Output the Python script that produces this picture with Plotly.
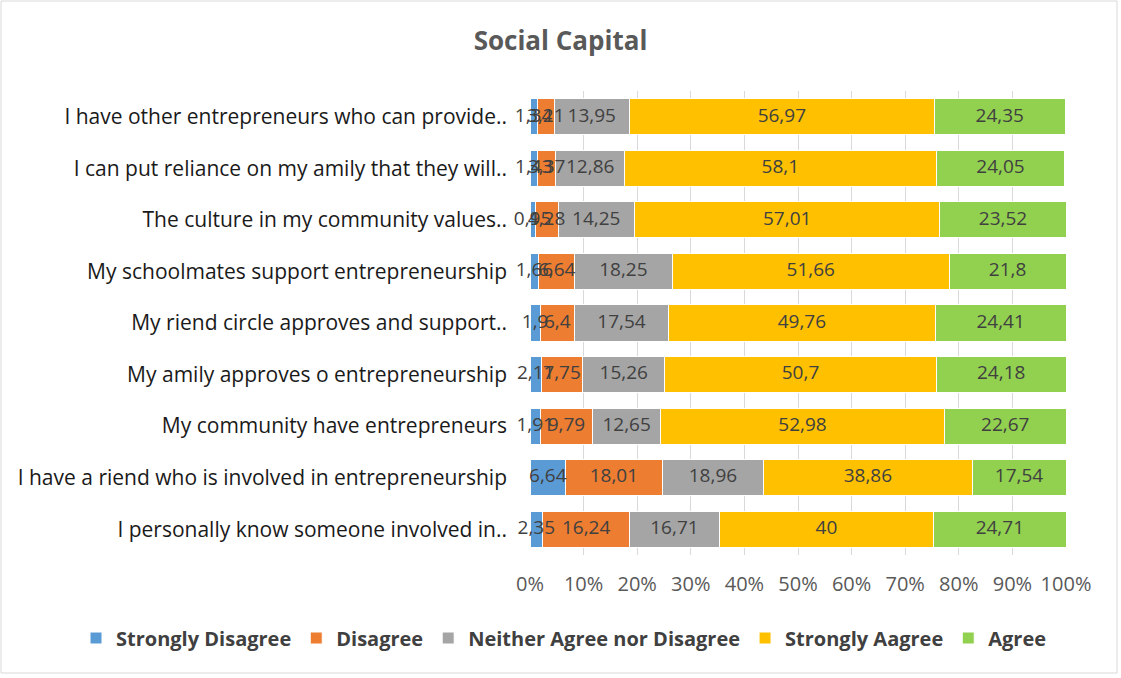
import plotly.graph_objects as go

# Survey statements (top to bottom) and response shares in percent
statements = [
    "I have other entrepreneurs who can provide..",
    "I can put reliance on my amily that they will..",
    "The culture in my community values..",
    "My schoolmates support entrepreneurship",
    "My riend circle approves and support..",
    "My amily approves o entrepreneurship",
    "My community have entrepreneurs",
    "I have a riend who is involved in entrepreneurship",
    "I personally know someone involved in..",
]

strongly_disagree = [1.34, 1.43, 0.95, 1.66, 1.9, 2.11, 1.91, 6.64, 2.35]
disagree = [3.21, 3.37, 4.28, 6.64, 6.4, 7.75, 9.79, 18.01, 16.24]
neither = [13.95, 12.86, 14.25, 18.25, 17.54, 15.26, 12.65, 18.96, 16.71]
strongly_agree = [56.97, 58.1, 57.01, 51.66, 49.76, 50.7, 52.98, 38.86, 40]
agree = [24.35, 24.05, 23.52, 21.8, 24.41, 24.18, 22.67, 17.54, 24.71]

x_ticks = [0, 10, 20, 30, 40, 50, 60, 70, 80, 90, 100]

series = [
    ("Strongly Disagree", strongly_disagree, "#5B9BD5"),
    ("Disagree", disagree, "#ED7D31"),
    ("Neither Agree nor Disagree", neither, "#A5A5A5"),
    ("Strongly Aagree", strongly_agree, "#FFC000"),
    ("Agree", agree, "#92D050"),
]

FONT = "Open Sans"
W, H = 1121, 678
ML, MR, MT, MB = 530, 55, 91, 123
PW, PH = W - ML - MR, H - MT - MB


def fmt(v):
    s = f"{v:.2f}".rstrip("0").rstrip(".")
    return s.replace(".", ",")


fig = go.Figure()
base = [0.0] * len(statements)
label_x, label_y, label_t = [], [], []
for name, vals, color in series:
    fig.add_trace(go.Bar(
        name=f"<b>{name}</b>",
        y=statements,
        x=vals,
        orientation="h",
        marker=dict(color=color, line=dict(color="white", width=1)),
        hoverinfo="x+name",
    ))
    for i, v in enumerate(vals):
        label_x.append(base[i] + v / 2)
        label_y.append(statements[i])
        label_t.append(fmt(v))
        base[i] += v

# value labels centred on each segment
fig.add_trace(go.Scatter(
    x=label_x, y=label_y, text=label_t, mode="text",
    textposition="middle center",
    textfont=dict(family=FONT, size=19, color="#404040"),
    cliponaxis=False,
    showlegend=False, hoverinfo="skip",
))

fig.update_layout(
    barmode="stack",
    bargap=0.3,
    width=W,
    height=H,
    margin=dict(l=ML, r=MR, t=MT, b=MB, autoexpand=False),
    paper_bgcolor="white",
    plot_bgcolor="white",
    font=dict(family=FONT, color="#404040"),
    title=dict(
        text="<b>Social Capital</b>",
        x=0.5, xref="container", xanchor="center",
        y=1 - 41 / H, yref="container", yanchor="middle",
        font=dict(family=FONT, size=26, color="#595959"),
    ),
    xaxis=dict(
        range=[0, 100],
        tickvals=x_ticks,
        ticktext=[f"{t}%" for t in x_ticks],
        showgrid=True,
        gridcolor="#D9D9D9",
        gridwidth=1,
        zeroline=False,
        showline=False,
        ticks="",
        tickfont=dict(family=FONT, size=20, color="#595959"),
        ticklabelstandoff=15,
    ),
    yaxis=dict(
        categoryorder="array",
        categoryarray=statements,
        autorange="reversed",
        showgrid=False,
        ticks="",
        showline=False,
        tickfont=dict(family=FONT, size=21, color="#1a1a1a"),
        ticklabelstandoff=22,
    ),
    legend=dict(
        orientation="h",
        x=(76 - ML) / PW, xanchor="left", xref="paper",
        y=(MB - (H - 638)) / PH * -1, yref="paper", yanchor="middle",
        font=dict(family=FONT, size=20, color="#404040"),
        traceorder="normal",
    ),
    shapes=[dict(
        type="rect", xref="paper", yref="paper",
        x0=(1 - ML) / PW, x1=(1117 - ML) / PW,
        y0=(H - MB - 673) / PH, y1=(H - MB - 1) / PH,
        line=dict(color="#D9D9D9", width=1),
        fillcolor="rgba(0,0,0,0)", layer="below",
    )],
)

fig.write_html("out.html")
